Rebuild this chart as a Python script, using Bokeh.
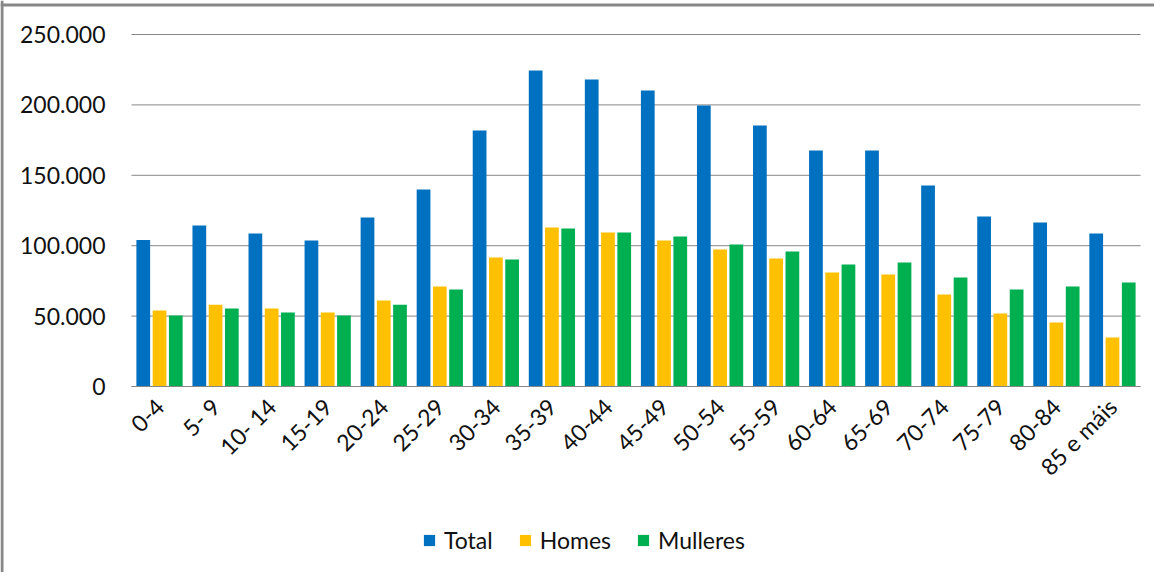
import math
from bokeh.plotting import figure
from bokeh.models import (Range1d, ColumnDataSource, Legend, LegendItem, Span,
                          CustomJSTickFormatter, FixedTicker)
from bokeh.transform import dodge
from bokeh.embed import file_html
from bokeh.resources import INLINE

categories = ["0-4", "5- 9", "10- 14", "15-19", "20-24", "25-29", "30-34", "35-39",
              "40-44", "45-49", "50-54", "55-59", "60-64", "65-69", "70-74", "75-79",
              "80-84", "85 e máis"]
total = [104000, 114300, 108700, 103700, 120000, 140000, 181800, 224400, 218000,
         210200, 199600, 185400, 167600, 167600, 142800, 120700, 116500, 108700]
homes = [54000, 58000, 55400, 52500, 61000, 71000, 91600, 112900, 109400,
         103700, 97300, 90900, 81000, 79500, 65300, 51800, 45500, 34800]
mulleres = [50400, 55400, 52500, 50400, 58000, 68900, 90200, 112200, 109400,
            106500, 100900, 95900, 86600, 88000, 77400, 68900, 71000, 73900]
series_names = ["Total", "Homes", "Mulleres"]
colors = ["#0070C0", "#FFC000", "#00B050"]
y_ticks = [0, 50000, 100000, 150000, 200000, 250000]

FONT = "Lato"
GREY = "#878787"
TEXT = "#111111"

# layout (pixels inside the figure)
W, H = 1154, 572
PLOT_L, PLOT_R = 131, 1140      # x of first / last category edge
PLOT_T, PLOT_B = 34, 386        # y of y-max / zero line
YMAX = 250000
n = len(categories)
xu = n / (PLOT_R - PLOT_L)      # data units per px
yu = YMAX / (PLOT_B - PLOT_T)
x_range = Range1d(-PLOT_L * xu, n + (W - PLOT_R) * xu)
y_range = Range1d(-(H - PLOT_B) * yu, YMAX + PLOT_T * yu)

pos = [i + 0.5 for i in range(n)]
src = ColumnDataSource(dict(pos=pos, Total=total, Homes=homes, Mulleres=mulleres))

p = figure(x_range=x_range, y_range=y_range, width=W, height=H,
           output_backend="svg", toolbar_location=None,
           min_border_left=0, min_border_right=0, min_border_top=0, min_border_bottom=0)
p.outline_line_color = None
p.background_fill_color = "white"
p.border_fill_color = "white"
p.xgrid.grid_line_color = None
p.ygrid.grid_line_color = None

# horizontal gridlines over the category span only
p.segment(x0=[0] * len(y_ticks), x1=[n] * len(y_ticks), y0=y_ticks, y1=y_ticks,
          line_color=GREY, line_width=1)

renderers = []
offsets = [-0.29, 0.0, 0.29]
for name, col, off in zip(series_names, colors, offsets):
    r = p.vbar(x=dodge("pos", off), top=name, width=0.245, source=src,
               fill_color=col, line_color=None)
    renderers.append(r)

# chart border (left + top)
p.add_layout(Span(location=x_range.start + 1.5 * xu, dimension="height",
                  line_color=GREY, line_width=3))
p.add_layout(Span(location=y_range.end - 4.5 * yu, dimension="width",
                  line_color=GREY, line_width=3))

p.yaxis.fixed_location = 0
p.yaxis.ticker = FixedTicker(ticks=y_ticks)
p.yaxis.formatter = CustomJSTickFormatter(
    code='return tick.toFixed(0).replace(/\\B(?=(\\d{3})+(?!\\d))/g, ".");')
p.yaxis.axis_line_color = None
p.yaxis.major_tick_line_color = None
p.yaxis.minor_tick_line_color = None
p.yaxis.major_tick_out = 0
p.yaxis.major_label_standoff = 26
p.yaxis.major_label_text_font = FONT
p.yaxis.major_label_text_font_size = "23px"
p.yaxis.major_label_text_color = TEXT

p.xaxis.fixed_location = 0
p.xaxis.bounds = (0, n)
p.xaxis.ticker = FixedTicker(ticks=pos)
p.xaxis.major_label_overrides = {x: c for x, c in zip(pos, categories)}
p.xaxis.axis_line_color = GREY
p.xaxis.axis_line_width = 1
p.xaxis.major_tick_line_color = None
p.xaxis.minor_tick_line_color = None
p.xaxis.major_tick_out = 0
p.xaxis.major_label_orientation = math.pi / 4
p.xaxis.major_label_standoff = 16
p.xaxis.major_label_text_font = FONT
p.xaxis.major_label_text_font_size = "23px"
p.xaxis.major_label_text_color = TEXT

legend = Legend(items=[LegendItem(label=s, renderers=[r]) for s, r in zip(series_names, renderers)],
                orientation="horizontal", location=(422, 18),
                label_text_font=FONT, label_text_font_size="23px", label_text_color=TEXT,
                glyph_width=14, glyph_height=14, label_standoff=8, spacing=25,
                padding=0, margin=0, border_line_color=None, background_fill_alpha=0)
p.add_layout(legend, "center")

open("out.html", "w").write(file_html(p, INLINE))
